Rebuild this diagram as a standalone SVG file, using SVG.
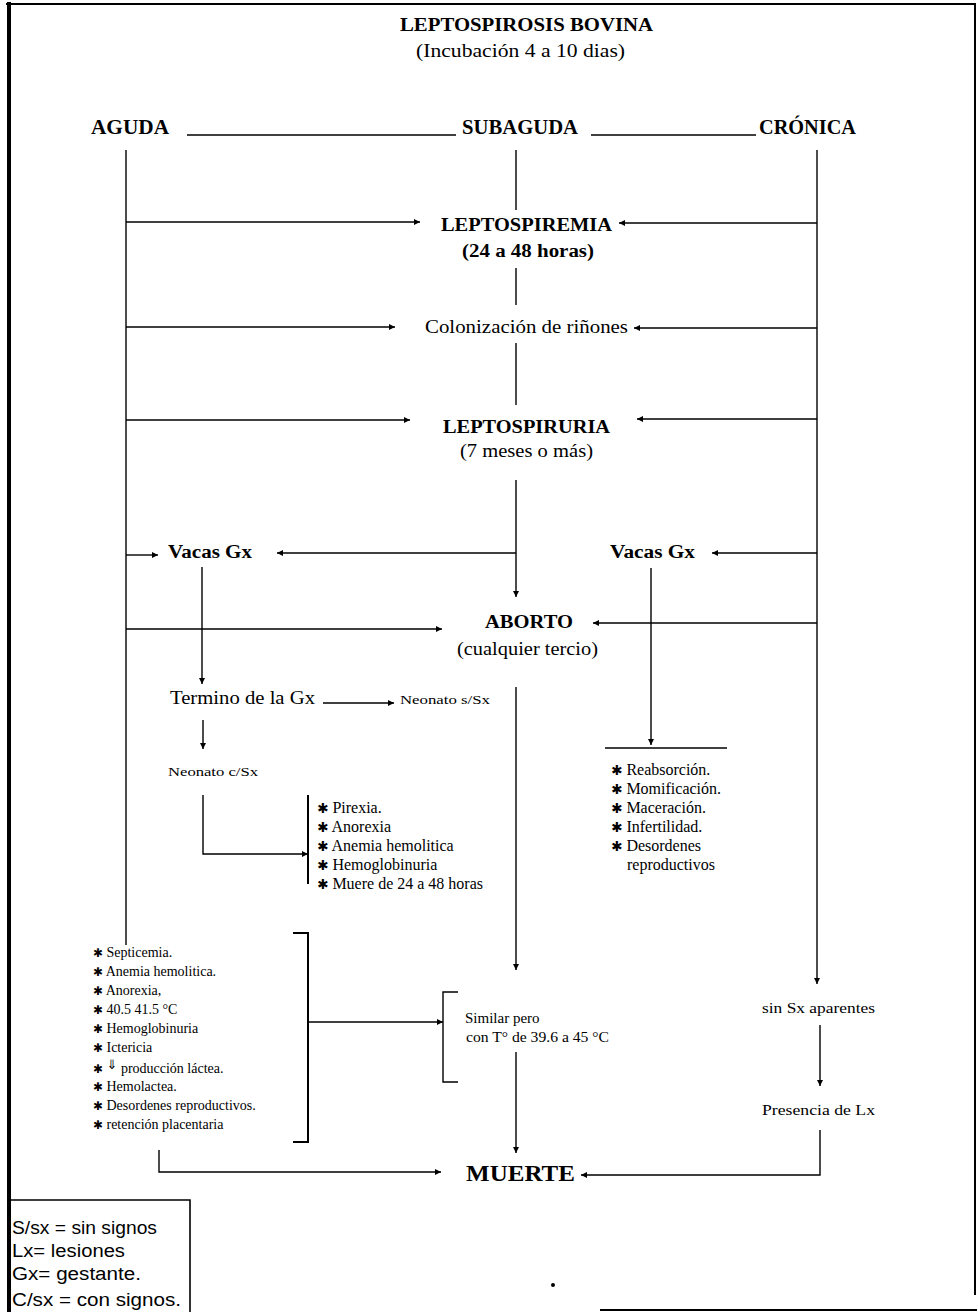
<svg xmlns="http://www.w3.org/2000/svg" width="978" height="1312" viewBox="0 0 978 1312">
<style>
text{font-family:"Liberation Serif","Times New Roman",serif;fill:#000}
.b{font-weight:bold}
.t18{font-size:18px}
.t20{font-size:20px}
.s13{font-size:13px}
.s14{font-size:14px}
.s15{font-size:15px}
.s16{font-size:16px}
.leg{font-family:"Liberation Sans",Arial,sans-serif;font-size:18px}
.ast{font-family:"DejaVu Sans",sans-serif;font-size:0.85em}
.dn{font-family:"DejaVu Sans",sans-serif;font-size:13px;fill:#000}
.ln{stroke:#000;stroke-width:1.4;fill:none}
.br{stroke:#000;stroke-width:2;fill:none}
.bd{stroke:#000;fill:none}
</style>
<defs>
<marker id="ah" viewBox="0 0 10 10" refX="10" refY="5" markerWidth="8" markerHeight="6" orient="auto" markerUnits="userSpaceOnUse"><path d="M0,0 L10,5 L0,10 z" fill="#000"/></marker>
</defs>
<rect width="978" height="1312" fill="#fff"/>
<g id="border">
<line class="bd" x1="6" y1="4" x2="976" y2="4" stroke-width="2"/>
<line class="bd" x1="9" y1="2" x2="9" y2="1312" stroke-width="4"/>
<line class="bd" x1="975" y1="3" x2="975" y2="1295" stroke-width="2"/>
<line class="bd" x1="600" y1="1310" x2="977" y2="1310" stroke-width="2"/>
</g>
<g id="title">
<text class="b t18" x="400" y="31" textLength="253" lengthAdjust="spacingAndGlyphs">LEPTOSPIROSIS BOVINA</text>
<text class="t18" x="416" y="57" textLength="209" lengthAdjust="spacingAndGlyphs">(Incubación 4 a 10 dias)</text>
</g>
<g id="aguda"><text class="b t20" x="91" y="134" textLength="78" lengthAdjust="spacingAndGlyphs">AGUDA</text></g>
<g id="subaguda"><text class="b t20" x="462" y="134" textLength="116" lengthAdjust="spacingAndGlyphs">SUBAGUDA</text></g>
<g id="cronica"><text class="b t20" x="759" y="134" textLength="97" lengthAdjust="spacingAndGlyphs">CRÓNICA</text></g>
<g id="leptospiremia">
<text class="b t18" x="441" y="231" textLength="171" lengthAdjust="spacingAndGlyphs">LEPTOSPIREMIA</text>
<text class="b t18" x="462" y="257" textLength="132" lengthAdjust="spacingAndGlyphs">(24 a 48 horas)</text>
</g>
<g id="colonizacion"><text class="t18" x="425" y="333" textLength="203" lengthAdjust="spacingAndGlyphs">Colonización de riñones</text></g>
<g id="leptospiruria">
<text class="b t18" x="443" y="433" textLength="167" lengthAdjust="spacingAndGlyphs">LEPTOSPIRURIA</text>
<text class="t18" x="460" y="457" textLength="133" lengthAdjust="spacingAndGlyphs">(7 meses o más)</text>
</g>
<g id="vacas-gx-aguda"><text class="b t18" x="168" y="558" textLength="84" lengthAdjust="spacingAndGlyphs">Vacas Gx</text></g>
<g id="vacas-gx-cronica"><text class="b t18" x="610" y="558" textLength="85" lengthAdjust="spacingAndGlyphs">Vacas Gx</text></g>
<g id="aborto">
<text class="b t18" x="485" y="628" textLength="88" lengthAdjust="spacingAndGlyphs">ABORTO</text>
<text class="t18" x="457" y="655" textLength="141" lengthAdjust="spacingAndGlyphs">(cualquier tercio)</text>
</g>
<g id="termino"><text class="t18" x="170" y="704" textLength="145" lengthAdjust="spacingAndGlyphs">Termino de la Gx</text></g>
<g id="neonato-ssx"><text class="s13" x="400" y="704" textLength="90" lengthAdjust="spacingAndGlyphs">Neonato  s/Sx</text></g>
<g id="neonato-csx"><text class="s13" x="168" y="776" textLength="90" lengthAdjust="spacingAndGlyphs">Neonato  c/Sx</text></g>
<g id="signos-neonato" class="s16">
<text x="317" y="813"><tspan class="ast">✱</tspan> Pirexia.</text>
<text x="317" y="832"><tspan class="ast">✱</tspan> Anorexia</text>
<text x="317" y="851"><tspan class="ast">✱</tspan> Anemia hemolitica</text>
<text x="317" y="870"><tspan class="ast">✱</tspan> Hemoglobinuria</text>
<text x="317" y="889"><tspan class="ast">✱</tspan> Muere de 24 a 48 horas</text>
</g>
<g id="signos-cronica" class="s16">
<text x="611" y="775"><tspan class="ast">✱</tspan> Reabsorción.</text>
<text x="611" y="794"><tspan class="ast">✱</tspan> Momificación.</text>
<text x="611" y="813"><tspan class="ast">✱</tspan> Maceración.</text>
<text x="611" y="832"><tspan class="ast">✱</tspan>  Infertilidad.</text>
<text x="611" y="851"><tspan class="ast">✱</tspan> Desordenes</text>
<text x="627" y="870">reproductivos</text>
</g>
<g id="signos-aguda" class="s14">
<text x="93" y="957"><tspan class="ast">✱</tspan> Septicemia.</text>
<text x="93" y="976"><tspan class="ast">✱</tspan> Anemia hemolitica.</text>
<text x="93" y="995"><tspan class="ast">✱</tspan> Anorexia,</text>
<text x="93" y="1014"><tspan class="ast">✱</tspan> 40.5 41.5 °C</text>
<text x="93" y="1033"><tspan class="ast">✱</tspan> Hemoglobinuria</text>
<text x="93" y="1052"><tspan class="ast">✱</tspan> Ictericia</text>
<text x="93" y="1073"><tspan class="ast">✱</tspan> <tspan class="dn" baseline-shift="4">⇓</tspan> producción láctea.</text>
<text x="93" y="1091"><tspan class="ast">✱</tspan> Hemolactea.</text>
<text x="93" y="1110"><tspan class="ast">✱</tspan> Desordenes reproductivos.</text>
<text x="93" y="1129"><tspan class="ast">✱</tspan> retención  placentaria</text>
</g>
<g id="similar" class="s15">
<text x="465" y="1023">Similar pero</text>
<text x="466" y="1042" textLength="143" lengthAdjust="spacingAndGlyphs">con T° de 39.6 a 45 °C</text>
</g>
<g id="sin-sx"><text class="s14" x="762" y="1013" textLength="113" lengthAdjust="spacingAndGlyphs">sin  Sx  aparentes</text></g>
<g id="presencia-lx"><text class="s14" x="762" y="1115" textLength="113" lengthAdjust="spacingAndGlyphs">Presencia  de  Lx</text></g>
<g id="muerte"><text class="b" font-size="24" x="466" y="1181" textLength="109" lengthAdjust="spacingAndGlyphs">MUERTE</text></g>
<g id="leyenda">
<path class="bd" stroke-width="1.6" d="M9,1200 H190 V1312"/>
<text class="leg" x="12" y="1234" textLength="145" lengthAdjust="spacingAndGlyphs">S/sx = sin signos</text>
<text class="leg" x="12" y="1257" textLength="113" lengthAdjust="spacingAndGlyphs">Lx= lesiones</text>
<text class="leg" x="12" y="1280" textLength="129" lengthAdjust="spacingAndGlyphs">Gx= gestante.</text>
<text class="leg" x="12" y="1306" textLength="169" lengthAdjust="spacingAndGlyphs">C/sx = con signos.</text>
</g>
<g id="mark"><circle cx="553" cy="1285" r="2" fill="#000"/></g>
<g id="connectors">
<line class="ln" x1="187" y1="135" x2="456" y2="135"/>
<line class="ln" x1="591" y1="135" x2="756" y2="135"/>
<line class="ln" x1="126" y1="150" x2="126" y2="945"/>
<line class="ln" x1="516" y1="150" x2="516" y2="210"/>
<line class="ln" x1="516" y1="268" x2="516" y2="305"/>
<line class="ln" x1="516" y1="343" x2="516" y2="405"/>
<line class="ln" x1="516" y1="480" x2="516" y2="597" marker-end="url(#ah)"/>
<line class="ln" x1="516" y1="687" x2="516" y2="970" marker-end="url(#ah)"/>
<line class="ln" x1="516" y1="1052" x2="516" y2="1153" marker-end="url(#ah)"/>
<line class="ln" x1="817" y1="150" x2="817" y2="984" marker-end="url(#ah)"/>
<line class="ln" x1="126" y1="222" x2="420" y2="222" marker-end="url(#ah)"/>
<line class="ln" x1="817" y1="223" x2="619" y2="223" marker-end="url(#ah)"/>
<line class="ln" x1="126" y1="327" x2="395" y2="327" marker-end="url(#ah)"/>
<line class="ln" x1="817" y1="328" x2="634" y2="328" marker-end="url(#ah)"/>
<line class="ln" x1="126" y1="420" x2="410" y2="420" marker-end="url(#ah)"/>
<line class="ln" x1="817" y1="419" x2="637" y2="419" marker-end="url(#ah)"/>
<line class="ln" x1="126" y1="555" x2="158" y2="555" marker-end="url(#ah)"/>
<line class="ln" x1="516" y1="553" x2="277" y2="553" marker-end="url(#ah)"/>
<line class="ln" x1="817" y1="553" x2="712" y2="553" marker-end="url(#ah)"/>
<line class="ln" x1="126" y1="629" x2="442" y2="629" marker-end="url(#ah)"/>
<line class="ln" x1="817" y1="623" x2="593" y2="623" marker-end="url(#ah)"/>
<line class="ln" x1="202" y1="567" x2="202" y2="684" marker-end="url(#ah)"/>
<line class="ln" x1="323" y1="703" x2="394" y2="703" marker-end="url(#ah)"/>
<line class="ln" x1="203" y1="720" x2="203" y2="749" marker-end="url(#ah)"/>
<path class="ln" d="M203,795 V854 H308" marker-end="url(#ah)"/>
<line class="br" x1="308" y1="795" x2="308" y2="884"/>
<line class="ln" x1="651" y1="568" x2="651" y2="745" marker-end="url(#ah)"/>
<line class="ln" x1="605" y1="748" x2="727" y2="748"/>
<path class="br" d="M293,933 H308 V1142 H293"/>
<line class="ln" x1="308" y1="1022" x2="443" y2="1022" marker-end="url(#ah)"/>
<path class="ln" d="M458,992 H443 V1082 H458"/>
<line class="ln" x1="820" y1="1025" x2="820" y2="1086" marker-end="url(#ah)"/>
<path class="ln" d="M820,1130 V1175 H581" marker-end="url(#ah)"/>
<path class="ln" d="M159,1150 V1172 H441" marker-end="url(#ah)"/>
</g>
</svg>
